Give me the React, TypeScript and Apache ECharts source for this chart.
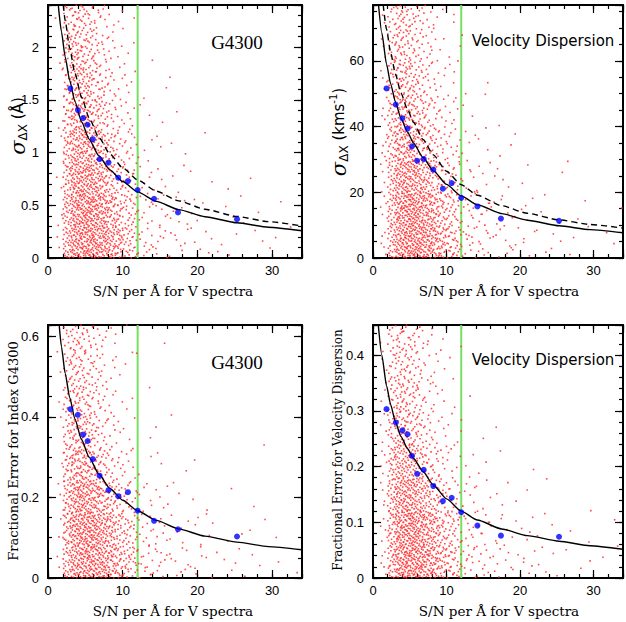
import { useEffect, useRef } from "react";
import * as echarts from "echarts";

// ---------- shared x axis ----------
const xMax = 34;
const snCut = 12;
const xTickMinor = 2;
const xTickMajor = 10;
// bin edges (S/N) for the red point density tables
const xEdges = [1, 2, 3, 4, 5, 6, 7, 8, 9, 10, 11, 12, 14, 16, 19, 22, 26, 30, 34];

// ---------- panel 1: sigma G4300 (Angstrom) ----------
const tlYMax = 2.4;
const tlYEdges = [0, 0.3, 0.6, 0.9, 1.2, 1.5, 1.8, 2.1, 2.4];
// counts of red points per cell, rows from bottom to top
const tlCounts = [
  [2, 25, 40, 46, 46, 43, 40, 34, 26, 18, 13, 12, 9, 8, 6, 4, 3, 2],
  [2, 24, 40, 46, 46, 42, 36, 28, 20, 14, 11, 10, 8, 7, 5, 3, 2, 1],
  [2, 22, 36, 40, 40, 35, 28, 20, 14, 10, 8, 6, 4, 3, 2, 1, 1, 0],
  [1, 20, 32, 34, 33, 27, 20, 14, 9, 7, 5, 4, 2, 2, 1, 0, 0, 0],
  [1, 18, 28, 28, 26, 20, 14, 9, 6, 4, 3, 2, 1, 1, 0, 0, 0, 0],
  [1, 16, 24, 24, 21, 15, 10, 7, 4, 3, 2, 1, 1, 1, 0, 0, 0, 0],
  [1, 14, 21, 20, 16, 11, 8, 5, 3, 2, 1, 1, 0, 0, 0, 0, 0, 0],
  [1, 12, 18, 16, 13, 9, 6, 3, 2, 1, 1, 0, 0, 0, 0, 0, 0, 0],
];
const tlBlueX = [3.0, 4.0, 4.7, 5.3, 6.0, 6.9, 8.1, 9.4, 10.7, 12.0, 14.2, 17.4, 25.3];
const tlBlueY = [1.607, 1.403, 1.327, 1.264, 1.127, 0.937, 0.905, 0.762, 0.73, 0.645, 0.562, 0.432, 0.368];
const tlFitX = [1.38, 1.8, 2.3, 2.9, 3.6, 4.5, 5.5, 6.8, 8.3, 10, 12, 14.5, 17.5, 21, 25.3, 29.5, 34];
const tlFitY = [2.4, 2.146, 1.908, 1.686, 1.486, 1.291, 1.128, 0.97, 0.836, 0.725, 0.627, 0.537, 0.459, 0.392, 0.334, 0.292, 0.258];
const tlDashX = [2.06, 2.3, 2.9, 3.6, 4.5, 5.5, 6.8, 8.3, 10, 12, 14.5, 17.5, 21, 25.3, 29.5, 34];
const tlDashY = [2.4, 2.25, 1.99, 1.753, 1.523, 1.331, 1.145, 0.986, 0.855, 0.74, 0.634, 0.542, 0.463, 0.394, 0.345, 0.304];

// ---------- panel 2: sigma velocity dispersion (km/s) ----------
const trYMax = 77;
const trYEdges = [0, 10, 20, 30, 40, 50, 60, 70, 77];
const trCounts = [
  [5, 22, 40, 48, 50, 46, 42, 34, 26, 20, 15, 14, 10, 9, 7, 5, 3, 2],
  [5, 22, 40, 48, 48, 42, 36, 28, 20, 15, 12, 11, 8, 7, 5, 3, 2, 1],
  [5, 20, 36, 40, 38, 32, 25, 18, 13, 10, 8, 7, 5, 4, 2, 1, 1, 0],
  [5, 18, 30, 32, 28, 22, 16, 12, 8, 6, 5, 4, 3, 2, 1, 0, 0, 0],
  [4, 16, 25, 25, 21, 16, 11, 8, 5, 4, 3, 2, 1, 1, 0, 0, 0, 0],
  [4, 14, 21, 20, 16, 12, 8, 5, 3, 2, 2, 1, 1, 0, 0, 0, 0, 0],
  [3, 12, 18, 16, 12, 9, 6, 4, 2, 1, 1, 1, 0, 0, 0, 0, 0, 0],
  [2, 8, 12, 11, 8, 6, 4, 2, 1, 1, 1, 0, 0, 0, 0, 0, 0, 0],
];
const trBlueX = [1.84, 3.1, 4.0, 4.7, 5.3, 6.0, 6.9, 8.2, 9.5, 10.7, 12.0, 14.2, 17.4, 25.3];
const trBlueY = [51.6, 46.7, 42.5, 39.4, 34.0, 29.6, 30.1, 26.9, 21.1, 22.8, 18.3, 15.7, 12.0, 11.3];
const trFitX = [0.75, 1.2, 1.84, 2.4, 3.05, 3.8, 4.7, 5.5, 6.8, 8.2, 10, 12, 14.2, 17.5, 21, 25.3, 29.5, 34];
const trFitY = [77, 68.5, 59, 53, 47.5, 42.5, 38.3, 35.0, 30.6, 26.6, 22.4, 18.9, 16.2, 13.5, 11.5, 9.8, 8.65, 7.7];
const trDashX = [1.39, 1.84, 2.4, 3.05, 3.8, 4.7, 5.5, 6.8, 8.2, 10, 12, 14.2, 17.5, 21, 25.3, 29.5, 34];
const trDashY = [77, 69.6, 62.5, 56.0, 50.2, 45.2, 41.3, 36.1, 31.4, 26.4, 22.3, 19.1, 15.9, 13.6, 11.6, 10.2, 9.1];

// ---------- panel 3: fractional error G4300 ----------
const blYMax = 0.628;
const blYEdges = [0, 0.08, 0.16, 0.24, 0.32, 0.4, 0.48, 0.56, 0.628];
const blCounts = [
  [2, 22, 36, 42, 44, 42, 38, 32, 24, 18, 14, 14, 10, 9, 7, 5, 3, 2],
  [2, 24, 40, 46, 46, 42, 36, 28, 20, 14, 11, 10, 8, 6, 5, 3, 2, 1],
  [2, 22, 36, 40, 38, 32, 25, 18, 12, 9, 7, 6, 4, 3, 2, 1, 1, 0],
  [1, 18, 28, 30, 27, 20, 14, 9, 6, 4, 3, 2, 2, 1, 1, 0, 0, 0],
  [1, 14, 22, 22, 18, 13, 8, 5, 3, 2, 2, 1, 1, 0, 0, 0, 1, 0],
  [1, 12, 17, 17, 14, 10, 6, 4, 2, 1, 1, 1, 0, 1, 0, 0, 0, 0],
  [1, 10, 15, 14, 11, 8, 5, 3, 2, 1, 1, 0, 0, 0, 0, 0, 0, 0],
  [1, 8, 12, 11, 8, 6, 4, 2, 1, 1, 1, 0, 1, 0, 0, 0, 0, 0],
];
const blBlueX = [3.0, 4.0, 4.7, 5.3, 6.0, 6.9, 8.1, 9.4, 10.7, 12.0, 14.2, 17.4, 25.3];
const blBlueY = [0.419, 0.405, 0.356, 0.34, 0.295, 0.254, 0.218, 0.203, 0.213, 0.167, 0.142, 0.121, 0.103];
const blFitX = [1.5, 1.8, 2.3, 2.9, 3.6, 4.5, 5.5, 6.8, 8.3, 10, 12, 14.5, 17.5, 21, 25.3, 29.5, 34];
const blFitY = [0.628, 0.574, 0.508, 0.448, 0.395, 0.343, 0.3, 0.258, 0.222, 0.193, 0.167, 0.143, 0.122, 0.104, 0.089, 0.078, 0.07];

// ---------- panel 4: fractional error velocity dispersion ----------
const brYMax = 0.454;
const brYEdges = [0, 0.06, 0.12, 0.18, 0.24, 0.3, 0.36, 0.42, 0.454];
const brCounts = [
  [5, 24, 42, 50, 50, 46, 40, 32, 24, 18, 14, 14, 10, 9, 7, 5, 3, 2],
  [5, 24, 42, 48, 48, 42, 36, 28, 20, 14, 11, 10, 8, 7, 5, 3, 2, 1],
  [5, 22, 36, 40, 36, 30, 23, 16, 11, 8, 6, 6, 4, 3, 2, 1, 1, 0],
  [5, 18, 28, 30, 26, 19, 13, 9, 6, 4, 3, 3, 2, 1, 1, 0, 0, 0],
  [4, 15, 22, 22, 17, 12, 8, 5, 3, 2, 2, 1, 1, 1, 0, 0, 0, 0],
  [3, 12, 18, 17, 13, 9, 6, 4, 2, 1, 1, 1, 0, 0, 0, 0, 0, 0],
  [3, 10, 15, 14, 10, 7, 4, 3, 2, 1, 1, 0, 0, 0, 0, 0, 0, 0],
  [1, 5, 8, 7, 5, 4, 2, 1, 1, 0, 0, 0, 0, 0, 0, 0, 0, 0],
];
const brBlueX = trBlueX;
const brBlueY = [0.303, 0.279, 0.265, 0.258, 0.219, 0.187, 0.194, 0.165, 0.138, 0.144, 0.118, 0.094, 0.076, 0.074];
const brFitX = [0.72, 1.2, 1.84, 2.4, 3.05, 3.8, 4.7, 5.5, 6.8, 8.2, 10, 12, 14.2, 17.5, 21, 25.3, 29.5, 34];
const brFitY = [0.454, 0.4, 0.345, 0.311, 0.28, 0.254, 0.232, 0.215, 0.191, 0.167, 0.142, 0.12, 0.104, 0.088, 0.076, 0.066, 0.058, 0.0515];

const xTitle = "S/N per Å for V spectra";

// ---------- helpers ----------
function halton(i: number, b: number) {
  let f = 1;
  let r = 0;
  let k = i;
  while (k > 0) {
    f /= b;
    r += f * (k % b);
    k = Math.floor(k / b);
  }
  return r;
}

// spread each cell's count over its cell (low-discrepancy placement, running index)
function cellsToPoints(yEdges: number[], counts: number[][]) {
  const pts: number[][] = [];
  let k = 1;
  counts.forEach((row, r) =>
    row.forEach((n, c) => {
      for (let j = 0; j < n; j++, k++) {
        pts.push([
          xEdges[c] + halton(k, 2) * (xEdges[c + 1] - xEdges[c]),
          yEdges[r] + halton(k, 3) * (yEdges[r + 1] - yEdges[r]),
        ]);
      }
    })
  );
  return pts;
}

const zip = (a: number[], b: number[]) => a.map((v, i) => [v, b[i]]);

const black = "#000";
const tickFont = { color: black, fontFamily: "Liberation Sans", fontSize: 13 };

function multipleFmt(step: number) {
  return (v: number) => {
    const q = v / step;
    return Math.abs(q - Math.round(q)) < 1e-6 ? String(+v.toFixed(3)) : "";
  };
}

function axesFor(gi: number, dim: "x" | "y", max: number, minor: number, major: number) {
  const base: any = { gridIndex: gi, type: "value", min: 0, max, splitLine: { show: false } };
  const pos = dim === "x" ? ["bottom", "top"] : ["left", "right"];
  const line = { show: true, onZero: false, lineStyle: { color: black, width: 2 } };
  const noLine = { show: false, onZero: false };
  const shortTick = { show: true, inside: true, length: 4, lineStyle: { color: black, width: 1.2 } };
  const longTick = { show: true, inside: true, length: 8, lineStyle: { color: black, width: 1.2 } };
  return [
    { ...base, position: pos[0], interval: minor, axisLine: line, axisTick: shortTick, axisLabel: { show: false } },
    {
      ...base,
      position: pos[0],
      interval: major,
      axisLine: noLine,
      axisTick: longTick,
      axisLabel: { show: true, margin: dim === "x" ? 6 : 9, ...tickFont, formatter: multipleFmt(major) },
    },
    { ...base, position: pos[1], interval: minor, axisLine: line, axisTick: shortTick, axisLabel: { show: false } },
    { ...base, position: pos[1], interval: major, axisLine: noLine, axisTick: longTick, axisLabel: { show: false } },
  ];
}

type Panel = {
  yMax: number;
  yMinor: number;
  yMajor: number;
  yEdges: number[];
  counts: number[][];
  blueX: number[];
  blueY: number[];
  fitX: number[];
  fitY: number[];
  dashX?: number[];
  dashY?: number[];
};

const panels: Panel[] = [
  { yMax: tlYMax, yMinor: 0.1, yMajor: 0.5, yEdges: tlYEdges, counts: tlCounts, blueX: tlBlueX, blueY: tlBlueY, fitX: tlFitX, fitY: tlFitY, dashX: tlDashX, dashY: tlDashY },
  { yMax: trYMax, yMinor: 5, yMajor: 20, yEdges: trYEdges, counts: trCounts, blueX: trBlueX, blueY: trBlueY, fitX: trFitX, fitY: trFitY, dashX: trDashX, dashY: trDashY },
  { yMax: blYMax, yMinor: 0.05, yMajor: 0.2, yEdges: blYEdges, counts: blCounts, blueX: blBlueX, blueY: blBlueY, fitX: blFitX, fitY: blFitY },
  { yMax: brYMax, yMinor: 0.02, yMajor: 0.1, yEdges: brYEdges, counts: brCounts, blueX: brBlueX, blueY: brBlueY, fitX: brFitX, fitY: brFitY },
];

const grids = [
  { left: 48, top: 5, width: 254, height: 253 },
  { left: 373, top: 5, width: 252, height: 253 },
  { left: 48, top: 325, width: 254, height: 253 },
  { left: 373, top: 325, width: 252, height: 253 },
];

function buildOption(): any {
  const xAxis: any[] = [];
  const yAxis: any[] = [];
  const series: any[] = [];
  panels.forEach((p, gi) => {
    xAxis.push(...axesFor(gi, "x", xMax, xTickMinor, xTickMajor));
    yAxis.push(...axesFor(gi, "y", p.yMax, p.yMinor, p.yMajor));
    const ax = { xAxisIndex: gi * 4, yAxisIndex: gi * 4 };
    series.push({
      type: "line",
      ...ax,
      data: [
        [snCut, 0],
        [snCut, p.yMax],
      ],
      showSymbol: false,
      silent: true,
      lineStyle: { color: "#77e063", width: 2 },
      z: 1,
    });
    series.push({
      type: "scatter",
      ...ax,
      data: cellsToPoints(p.yEdges, p.counts),
      symbol: "rect",
      symbolSize: 1.6,
      silent: true,
      itemStyle: { color: "#ff2a2a", opacity: 0.85 },
      z: 2,
    });
    series.push({
      type: "line",
      ...ax,
      data: zip(p.fitX, p.fitY),
      showSymbol: false,
      smooth: 0.2,
      smoothMonotone: "x",
      silent: true,
      lineStyle: { color: black, width: 1.4 },
      z: 3,
    });
    if (p.dashX && p.dashY) {
      series.push({
        type: "line",
        ...ax,
        data: zip(p.dashX, p.dashY),
        showSymbol: false,
        smooth: 0.2,
        smoothMonotone: "x",
        silent: true,
        lineStyle: { color: black, width: 1.4, type: [6, 4] },
        z: 3,
      });
    }
    series.push({
      type: "scatter",
      ...ax,
      data: zip(p.blueX, p.blueY),
      symbol: "circle",
      symbolSize: 6,
      silent: true,
      itemStyle: { color: "#0000ff" },
      z: 4,
    });
  });

  const serif = "DejaVu Serif";
  const xName = (cx: number, cy: number) => ({
    type: "text",
    x: cx,
    y: cy,
    style: { text: xTitle, font: `13.5px "${serif}"`, fill: black, align: "center", verticalAlign: "middle" },
  });
  const sigmaRich = {
    s: { fontSize: 21, fontStyle: "italic", fontFamily: "DejaVu Serif", fill: black },
    sub: { fontSize: 12, fontFamily: "DejaVu Sans", fill: black, verticalAlign: "bottom", padding: [10, 0, 0, 0] },
    n: { fontSize: 15, fontFamily: "DejaVu Sans", fill: black },
    sup: { fontSize: 10, fontFamily: "DejaVu Sans", fill: black, verticalAlign: "top" },
  };
  const vdFont = '15px "DejaVu Sans"';

  const graphic = [
    xName(173, 291),
    xName(499, 291),
    xName(173, 611),
    xName(499, 611),
    {
      type: "text",
      x: 237,
      y: 42,
      style: { text: "G4300", font: '19px "Liberation Serif"', fill: black, align: "center", verticalAlign: "middle" },
    },
    {
      type: "text",
      x: 237,
      y: 362,
      style: { text: "G4300", font: '19px "Liberation Serif"', fill: black, align: "center", verticalAlign: "middle" },
    },
    {
      type: "text",
      x: 543,
      y: 41,
      style: { text: "Velocity Dispersion", font: vdFont, fill: black, align: "center", verticalAlign: "middle" },
    },
    {
      type: "text",
      x: 543,
      y: 360,
      style: { text: "Velocity Dispersion", font: vdFont, fill: black, align: "center", verticalAlign: "middle" },
    },
    {
      type: "text",
      x: 18,
      y: 126,
      rotation: Math.PI / 2,
      style: { text: "{s|σ}{sub|ΔX}{n| (Å)}", rich: sigmaRich, align: "center", verticalAlign: "middle" },
    },
    {
      type: "text",
      x: 339,
      y: 132,
      rotation: Math.PI / 2,
      style: { text: "{s|σ}{sub|ΔX}{n| (kms}{sup|-1}{n|)}", rich: sigmaRich, align: "center", verticalAlign: "middle" },
    },
    {
      type: "text",
      x: 13,
      y: 451,
      rotation: Math.PI / 2,
      style: { text: "Fractional Error for Index G4300", font: `13px "${serif}"`, fill: black, align: "center", verticalAlign: "middle" },
    },
    {
      type: "text",
      x: 338,
      y: 450,
      rotation: Math.PI / 2,
      style: { text: "Fractional Error for Velocity Dispersion", font: `12px "${serif}"`, fill: black, align: "center", verticalAlign: "middle" },
    },
  ];

  return {
    animation: false,
    backgroundColor: "#fff",
    grid: grids,
    xAxis,
    yAxis,
    series,
    graphic,
  };
}

export default function App() {
  const ref = useRef<HTMLDivElement>(null);
  useEffect(() => {
    if (!ref.current) return;
    const chart = echarts.init(ref.current, undefined, { renderer: "svg" });
    chart.setOption(buildOption());
    return () => chart.dispose();
  }, []);
  return (
    <div
      ref={ref}
      style={{ position: "fixed", left: 0, top: 0, width: 626, height: 622, background: "#fff" }}
    />
  );
}
